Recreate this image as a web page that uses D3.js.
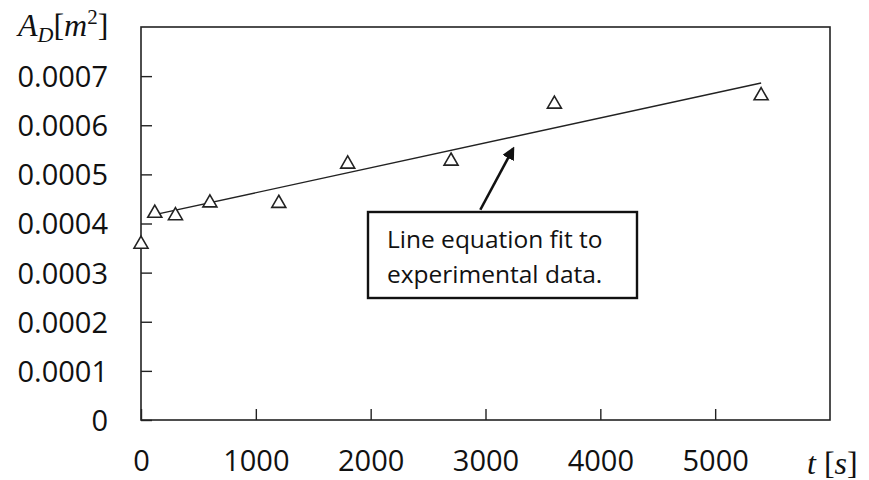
<!DOCTYPE html>
<html lang="en">
<head>
	<meta charset="UTF-8">
	<title>Drop area vs time</title>
	<script src="https://d3js.org/d3.v7.min.js"></script>
	<style>
		body { margin: 0; background: #fff; }
		svg { display: block; }
		.tick-label { font-family: "Open Sans", sans-serif; font-size: 29px; fill: #111; }
		.note { font-family: "Open Sans", sans-serif; font-size: 24.5px; fill: #111; }
		.title { font-family: "Liberation Serif", serif; font-size: 32px; fill: #111; }
	</style>
</head>
<body>
<div id="chart"></div>
<script>
	// measured points (t in s, area in m^2)
	const timeS = [0, 120, 300, 600, 1200, 1800, 2700, 3600, 5400];
	const areaM2 = [0.000358, 0.000421, 0.000416, 0.000442, 0.000441, 0.000521, 0.000527, 0.000643, 0.000660];

	// fitted line end points
	const fitT = [120, 5400];
	const fitA = [0.000418, 0.000686];

	const xTicks = [0, 1000, 2000, 3000, 4000, 5000];
	const yTicks = [0, 0.0001, 0.0002, 0.0003, 0.0004, 0.0005, 0.0006, 0.0007];

	const sizeX = 869;
	const sizeY = 480;
	const margin = { top: 27, right: 39, bottom: 60, left: 141 },
		width = sizeX - margin.left - margin.right,
		height = sizeY - margin.top - margin.bottom;

	const svg = d3.create("svg")
		.attr("width", sizeX)
		.attr("height", sizeY);

	const x = d3.scaleLinear().domain([0, 6000]).range([margin.left, margin.left + width]);
	const y = d3.scaleLinear().domain([0, 0.0008]).range([margin.top + height, margin.top]);

	// frame
	svg.append("rect")
		.attr("x", x(0))
		.attr("y", y(0.0008))
		.attr("width", x(6000) - x(0))
		.attr("height", y(0) - y(0.0008))
		.attr("fill", "none")
		.attr("stroke", "#222")
		.attr("stroke-width", 1.6);

	// inward ticks
	const yAxis = d3.axisLeft(y).tickValues(yTicks).tickSize(-11).tickPadding(33)
		.tickFormat(d => d === 0 ? "0" : d.toFixed(4));
	const gy = svg.append("g").attr("transform", `translate(${x(0)},0)`).call(yAxis);
	gy.select(".domain").remove();
	gy.selectAll("line").attr("stroke", "#222").attr("stroke-width", 1.4);
	gy.selectAll("text").attr("class", "tick-label").attr("dy", "0.36em");

	const xAxis = d3.axisBottom(x).tickValues(xTicks).tickSize(-11).tickPadding(30)
		.tickFormat(d => String(d));
	const gx = svg.append("g").attr("transform", `translate(0,${y(0)})`).call(xAxis);
	gx.select(".domain").remove();
	gx.selectAll("line").attr("stroke", "#222").attr("stroke-width", 1.4);
	gx.selectAll("text").attr("class", "tick-label").attr("dy", "0.71em");

	// fit line
	svg.append("line")
		.attr("x1", x(fitT[0])).attr("y1", y(fitA[0]))
		.attr("x2", x(fitT[1])).attr("y2", y(fitA[1]))
		.attr("stroke", "#222")
		.attr("stroke-width", 1.4);

	// open triangles
	const tri = d3.symbol().type(d3.symbolTriangle).size(85);
	svg.append("g").selectAll("path")
		.data(timeS)
		.join("path")
		.attr("transform", (d, i) => `translate(${x(d)},${y(areaM2[i])})`)
		.attr("d", tri)
		.attr("fill", "#fff")
		.attr("stroke", "#222")
		.attr("stroke-width", 1.6);

	// annotation box + arrow
	const defs = svg.append("defs");
	defs.append("marker")
		.attr("id", "head")
		.attr("viewBox", "0 0 10 10")
		.attr("refX", 8).attr("refY", 5)
		.attr("markerWidth", 5).attr("markerHeight", 5)
		.attr("orient", "auto")
		.append("path")
		.attr("d", "M0,0 L10,5 L0,10 z")
		.attr("fill", "#111");

	svg.append("line")
		.attr("x1", x(2955)).attr("y1", y(0.000428))
		.attr("x2", x(3240)).attr("y2", y(0.000552))
		.attr("stroke", "#111")
		.attr("stroke-width", 2.6)
		.attr("marker-end", "url(#head)");

	svg.append("rect")
		.attr("x", 368).attr("y", 212)
		.attr("width", 269).attr("height", 86)
		.attr("fill", "#fff")
		.attr("stroke", "#111")
		.attr("stroke-width", 2.4);

	const note = svg.append("text").attr("class", "note");
	note.append("tspan").attr("x", 387).attr("y", 248).text("Line equation fit to");
	note.append("tspan").attr("x", 387).attr("y", 283).text("experimental data.");

	// axis titles
	const ty = svg.append("text").attr("class", "title").attr("x", 18).attr("y", 36);
	ty.append("tspan").attr("font-style", "italic").text("A");
	ty.append("tspan").attr("font-style", "italic").attr("font-size", "22px").attr("dy", 6).text("D");
	ty.append("tspan").attr("dy", -6).text("[");
	ty.append("tspan").attr("font-style", "italic").text("m");
	ty.append("tspan").attr("font-size", "21px").attr("dy", -12).text("2");
	ty.append("tspan").attr("dy", 12).text("]");

	const tx = svg.append("text").attr("class", "title").attr("x", 807).attr("y", 474);
	tx.append("tspan").attr("font-style", "italic").text("t");
	tx.append("tspan").text(" [");
	tx.append("tspan").attr("font-style", "italic").text("s");
	tx.append("tspan").text("]");

	document.getElementById("chart").append(svg.node());
</script>
</body>
</html>
